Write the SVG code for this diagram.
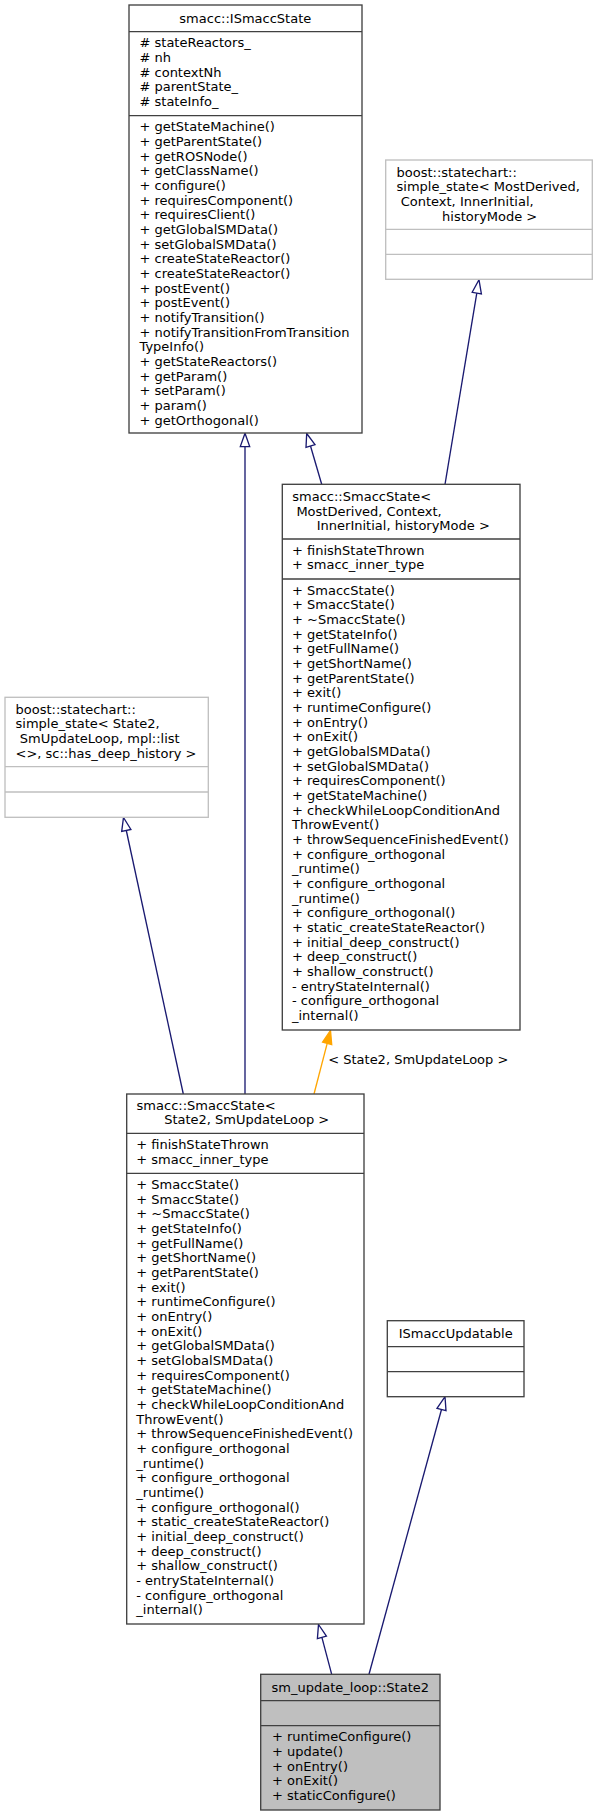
<svg xmlns="http://www.w3.org/2000/svg" width="598" height="1816" viewBox="0 0 598 1816">
<style>
text{font-family:"DejaVu Sans","Liberation Sans",sans-serif;font-size:13px;fill:#000}
.box{fill:#fff;stroke:#404040;stroke-width:1.33}
.ext{fill:#fff;stroke:#bfbfbf;stroke-width:1.33}
.cur{fill:#bfbfbf;stroke:#404040;stroke-width:1.33}
.sep{stroke:#404040;stroke-width:1.33}
.sepx{stroke:#bfbfbf;stroke-width:1.33}
.mid{text-anchor:middle}
.edge{fill:none;stroke:#191970;stroke-width:1.33}
.head{fill:#fff;stroke:#191970;stroke-width:1.33}
.oedge{fill:none;stroke:#ffa500;stroke-width:1.33}
.ohead{fill:#ffa500;stroke:#ffa500;stroke-width:1.33}
</style>
<rect width="598" height="1816" fill="#fff"/>
<g id="connectors">
<path class="edge" d="M321.7,484.3L310.5,446"/>
<polygon class="head" points="306.7,433.5 315,444.7 306,447.4"/>
<path class="edge" d="M445,484.3L476.8,293.1"/>
<polygon class="head" points="479,279.8 481.4,293.9 472.2,292.3"/>
<path class="edge" d="M245,1094L245,446.6"/>
<polygon class="head" points="245,433.3 249.7,446.6 240.3,446.6"/>
<path class="edge" d="M183.3,1094L126.3,830.5"/>
<polygon class="head" points="123.5,817.5 130.9,829.5 121.7,831.5"/>
<path class="oedge" d="M314,1094L327.2,1043.4"/>
<polygon class="ohead" points="330.5,1030.5 331.7,1044.6 322.6,1042.2"/>
<text x="328.2" y="1064.3">&lt; State2, SmUpdateLoop &gt;</text>
<path class="edge" d="M331.7,1674.3L321.9,1637.4"/>
<polygon class="head" points="318.5,1624.5 326.4,1636.2 317.4,1638.6"/>
<path class="edge" d="M369,1674.3L441.5,1409.5"/>
<polygon class="head" points="445,1396.7 446,1410.7 437,1408.3"/>
</g>
<g id="ISmaccState">
<rect class="box" x="129" y="5" width="233" height="428"/>
<line class="sep" x1="129" y1="31.7" x2="362" y2="31.7"/>
<line class="sep" x1="129" y1="115.7" x2="362" y2="115.7"/>
<text class="mid" x="245.3" y="22.8">smacc::ISmaccState</text>
<text x="139.5" y="47.3"><tspan x="139.5"># stateReactors_</tspan><tspan x="139.5" dy="14.67"># nh</tspan><tspan x="139.5" dy="14.67"># contextNh</tspan><tspan x="139.5" dy="14.67"># parentState_</tspan><tspan x="139.5" dy="14.67"># stateInfo_</tspan></text>
<text x="139.5" y="131.3"><tspan x="139.5">+ getStateMachine()</tspan><tspan x="139.5" dy="14.67">+ getParentState()</tspan><tspan x="139.5" dy="14.67">+ getROSNode()</tspan><tspan x="139.5" dy="14.67">+ getClassName()</tspan><tspan x="139.5" dy="14.67">+ configure()</tspan><tspan x="139.5" dy="14.67">+ requiresComponent()</tspan><tspan x="139.5" dy="14.67">+ requiresClient()</tspan><tspan x="139.5" dy="14.67">+ getGlobalSMData()</tspan><tspan x="139.5" dy="14.67">+ setGlobalSMData()</tspan><tspan x="139.5" dy="14.67">+ createStateReactor()</tspan><tspan x="139.5" dy="14.67">+ createStateReactor()</tspan><tspan x="139.5" dy="14.67">+ postEvent()</tspan><tspan x="139.5" dy="14.67">+ postEvent()</tspan><tspan x="139.5" dy="14.67">+ notifyTransition()</tspan><tspan x="139.5" dy="14.67">+ notifyTransitionFromTransition</tspan><tspan x="139.5" dy="14.67">TypeInfo()</tspan><tspan x="139.5" dy="14.67">+ getStateReactors()</tspan><tspan x="139.5" dy="14.67">+ getParam()</tspan><tspan x="139.5" dy="14.67">+ setParam()</tspan><tspan x="139.5" dy="14.67">+ param()</tspan><tspan x="139.5" dy="14.67">+ getOrthogonal()</tspan></text>
</g>
<g id="simple_state_generic">
<rect class="ext" x="385.7" y="160" width="206.6" height="119.3"/>
<line class="sepx" x1="385.7" y1="229.3" x2="592.3" y2="229.3"/>
<line class="sepx" x1="385.7" y1="254.3" x2="592.3" y2="254.3"/>
<text x="396.5" y="176.5"><tspan x="396.5">boost::statechart::</tspan><tspan x="396.5" dy="14.67">simple_state&lt; MostDerived,</tspan><tspan x="400.7" dy="14.67">Context, InnerInitial,</tspan><tspan class="mid" x="489.7" dy="14.67">historyMode &gt;</tspan></text>
</g>
<g id="SmaccState_generic">
<rect class="box" x="282.3" y="484.3" width="237.7" height="545.7"/>
<line class="sep" x1="282.3" y1="539" x2="520" y2="539"/>
<line class="sep" x1="282.3" y1="579" x2="520" y2="579"/>
<text x="292.3" y="500.9"><tspan x="292.3">smacc::SmaccState&lt;</tspan><tspan x="296.4" dy="14.67">MostDerived, Context,</tspan><tspan class="mid" x="403.3" dy="14.67">InnerInitial, historyMode &gt;</tspan></text>
<text x="292" y="554.6"><tspan x="292">+ finishStateThrown</tspan><tspan x="292" dy="14.67">+ smacc_inner_type</tspan></text>
<text x="292" y="594.6"><tspan x="292">+ SmaccState()</tspan><tspan x="292" dy="14.67">+ SmaccState()</tspan><tspan x="292" dy="14.67">+ ~SmaccState()</tspan><tspan x="292" dy="14.67">+ getStateInfo()</tspan><tspan x="292" dy="14.67">+ getFullName()</tspan><tspan x="292" dy="14.67">+ getShortName()</tspan><tspan x="292" dy="14.67">+ getParentState()</tspan><tspan x="292" dy="14.67">+ exit()</tspan><tspan x="292" dy="14.67">+ runtimeConfigure()</tspan><tspan x="292" dy="14.67">+ onEntry()</tspan><tspan x="292" dy="14.67">+ onExit()</tspan><tspan x="292" dy="14.67">+ getGlobalSMData()</tspan><tspan x="292" dy="14.67">+ setGlobalSMData()</tspan><tspan x="292" dy="14.67">+ requiresComponent()</tspan><tspan x="292" dy="14.67">+ getStateMachine()</tspan><tspan x="292" dy="14.67">+ checkWhileLoopConditionAnd</tspan><tspan x="292" dy="14.67">ThrowEvent()</tspan><tspan x="292" dy="14.67">+ throwSequenceFinishedEvent()</tspan><tspan x="292" dy="14.67">+ configure_orthogonal</tspan><tspan x="292" dy="14.67">_runtime()</tspan><tspan x="292" dy="14.67">+ configure_orthogonal</tspan><tspan x="292" dy="14.67">_runtime()</tspan><tspan x="292" dy="14.67">+ configure_orthogonal()</tspan><tspan x="292" dy="14.67">+ static_createStateReactor()</tspan><tspan x="292" dy="14.67">+ initial_deep_construct()</tspan><tspan x="292" dy="14.67">+ deep_construct()</tspan><tspan x="292" dy="14.67">+ shallow_construct()</tspan><tspan x="292" dy="14.67">- entryStateInternal()</tspan><tspan x="292" dy="14.67">- configure_orthogonal</tspan><tspan x="292" dy="14.67">_internal()</tspan></text>
</g>
<g id="simple_state_State2">
<rect class="ext" x="5" y="697.3" width="203.3" height="120"/>
<line class="sepx" x1="5" y1="766.7" x2="208.3" y2="766.7"/>
<line class="sepx" x1="5" y1="792" x2="208.3" y2="792"/>
<text x="15.5" y="713.5"><tspan x="15.5">boost::statechart::</tspan><tspan x="15.5" dy="14.67">simple_state&lt; State2,</tspan><tspan x="19.8" dy="14.67">SmUpdateLoop, mpl::list</tspan><tspan x="15.5" dy="14.67">&lt;&gt;, sc::has_deep_history &gt;</tspan></text>
</g>
<g id="SmaccState_State2">
<rect class="box" x="126.7" y="1094" width="237.3" height="530"/>
<line class="sep" x1="126.7" y1="1133.3" x2="364" y2="1133.3"/>
<line class="sep" x1="126.7" y1="1173.3" x2="364" y2="1173.3"/>
<text x="136.6" y="1109.5"><tspan x="136.6">smacc::SmaccState&lt;</tspan><tspan class="mid" x="246.7" dy="14.67">State2, SmUpdateLoop &gt;</tspan></text>
<text x="136.3" y="1149"><tspan x="136.3">+ finishStateThrown</tspan><tspan x="136.3" dy="14.67">+ smacc_inner_type</tspan></text>
<text x="136.3" y="1189"><tspan x="136.3">+ SmaccState()</tspan><tspan x="136.3" dy="14.67">+ SmaccState()</tspan><tspan x="136.3" dy="14.67">+ ~SmaccState()</tspan><tspan x="136.3" dy="14.67">+ getStateInfo()</tspan><tspan x="136.3" dy="14.67">+ getFullName()</tspan><tspan x="136.3" dy="14.67">+ getShortName()</tspan><tspan x="136.3" dy="14.67">+ getParentState()</tspan><tspan x="136.3" dy="14.67">+ exit()</tspan><tspan x="136.3" dy="14.67">+ runtimeConfigure()</tspan><tspan x="136.3" dy="14.67">+ onEntry()</tspan><tspan x="136.3" dy="14.67">+ onExit()</tspan><tspan x="136.3" dy="14.67">+ getGlobalSMData()</tspan><tspan x="136.3" dy="14.67">+ setGlobalSMData()</tspan><tspan x="136.3" dy="14.67">+ requiresComponent()</tspan><tspan x="136.3" dy="14.67">+ getStateMachine()</tspan><tspan x="136.3" dy="14.67">+ checkWhileLoopConditionAnd</tspan><tspan x="136.3" dy="14.67">ThrowEvent()</tspan><tspan x="136.3" dy="14.67">+ throwSequenceFinishedEvent()</tspan><tspan x="136.3" dy="14.67">+ configure_orthogonal</tspan><tspan x="136.3" dy="14.67">_runtime()</tspan><tspan x="136.3" dy="14.67">+ configure_orthogonal</tspan><tspan x="136.3" dy="14.67">_runtime()</tspan><tspan x="136.3" dy="14.67">+ configure_orthogonal()</tspan><tspan x="136.3" dy="14.67">+ static_createStateReactor()</tspan><tspan x="136.3" dy="14.67">+ initial_deep_construct()</tspan><tspan x="136.3" dy="14.67">+ deep_construct()</tspan><tspan x="136.3" dy="14.67">+ shallow_construct()</tspan><tspan x="136.3" dy="14.67">- entryStateInternal()</tspan><tspan x="136.3" dy="14.67">- configure_orthogonal</tspan><tspan x="136.3" dy="14.67">_internal()</tspan></text>
</g>
<g id="ISmaccUpdatable">
<rect class="box" x="387.3" y="1320.7" width="136.7" height="76"/>
<line class="sep" x1="387.3" y1="1346.7" x2="524" y2="1346.7"/>
<line class="sep" x1="387.3" y1="1371.7" x2="524" y2="1371.7"/>
<text class="mid" x="455.7" y="1337.6">ISmaccUpdatable</text>
</g>
<g id="State2">
<rect class="cur" x="260.7" y="1674.3" width="179.3" height="135.7"/>
<line class="sep" x1="260.7" y1="1700.7" x2="440" y2="1700.7"/>
<line class="sep" x1="260.7" y1="1725.7" x2="440" y2="1725.7"/>
<text class="mid" x="350.3" y="1691.8">sm_update_loop::State2</text>
<text x="272" y="1741.3"><tspan x="272">+ runtimeConfigure()</tspan><tspan x="272" dy="14.67">+ update()</tspan><tspan x="272" dy="14.67">+ onEntry()</tspan><tspan x="272" dy="14.67">+ onExit()</tspan><tspan x="272" dy="14.67">+ staticConfigure()</tspan></text>
</g>
</svg>
